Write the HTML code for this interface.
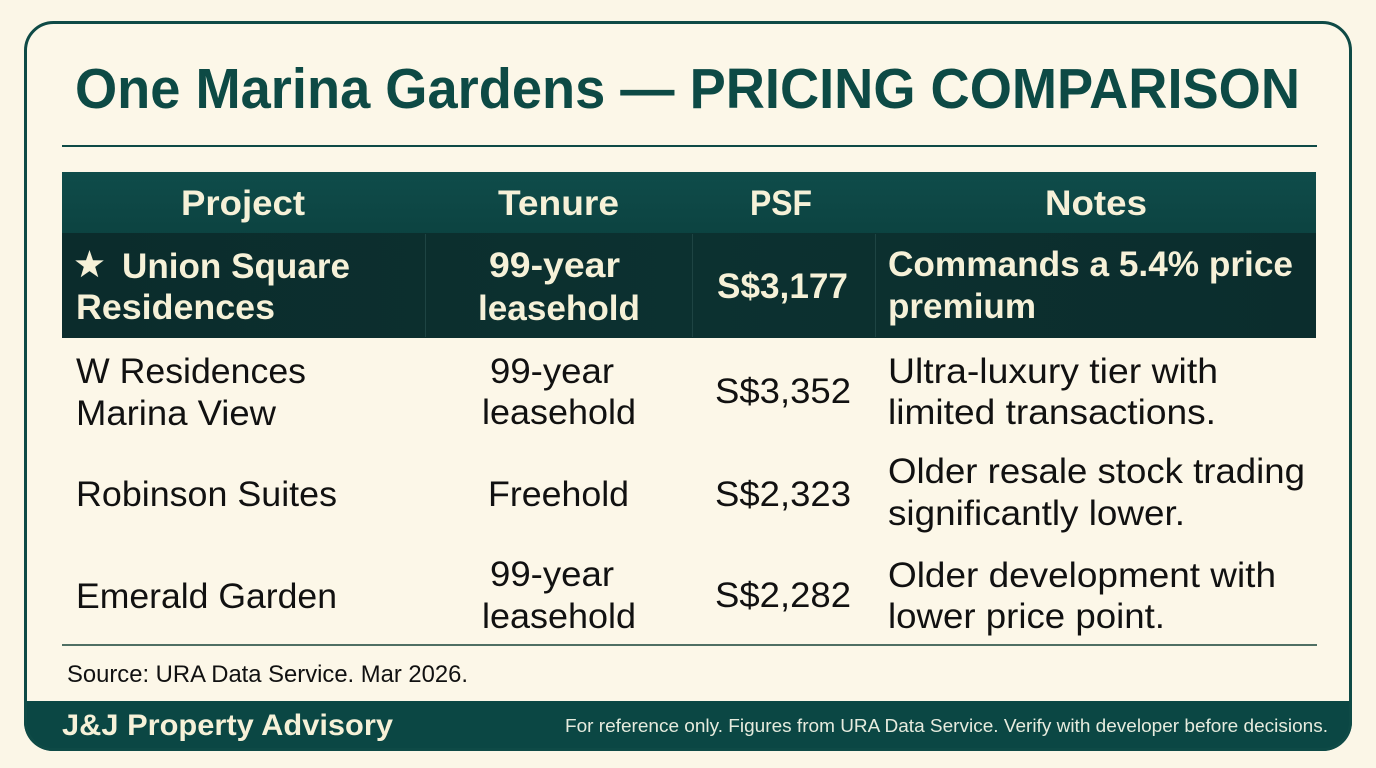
<!DOCTYPE html>
<html>
<head>
<meta charset="utf-8">
<style>
  html, body { margin:0; padding:0; background:#fbf6e7; }
  body { width:1376px; height:768px; overflow:hidden; }
  svg { display:block; }
  .t { font-family:"Liberation Sans", Arial, sans-serif; }
  .b { font-weight:bold; }
</style>
</head>
<body>
<svg width="1376" height="768" viewBox="0 0 1376 768" xmlns="http://www.w3.org/2000/svg">
  <defs>
    <clipPath id="card">
      <rect x="24" y="21" width="1328" height="730" rx="29" ry="29"/>
    </clipPath>
    <linearGradient id="hdr" x1="0" y1="0" x2="0" y2="1">
      <stop offset="0" stop-color="#0f4c4a"/>
      <stop offset="1" stop-color="#0c4341"/>
    </linearGradient>
    <linearGradient id="hl" x1="0" y1="0" x2="1" y2="0">
      <stop offset="0" stop-color="#0b2c2c"/>
      <stop offset="0.5" stop-color="#0c3130"/>
      <stop offset="1" stop-color="#0b2d2d"/>
    </linearGradient>
  </defs>

  <!-- page background -->
  <rect x="0" y="0" width="1376" height="768" fill="#fbf6e7"/>

  <!-- card -->
  <g clip-path="url(#card)">
    <rect x="24" y="21" width="1328" height="730" fill="#fcf7e8"/>
    <rect x="24" y="701" width="1328" height="52" fill="#0b4744"/>
  </g>
  <rect x="25.5" y="22.5" width="1325" height="727" rx="28" ry="28" fill="none" stroke="#0e4a46" stroke-width="3"/>

  <!-- title -->
  <text class="t b" x="75" y="108" font-size="57" fill="#0d4a45" textLength="1225" lengthAdjust="spacingAndGlyphs">One Marina Gardens — PRICING COMPARISON</text>

  <!-- divider -->
  <rect x="62" y="145" width="1255" height="2" fill="#0e4a46"/>

  <!-- header bar -->
  <rect x="62" y="172" width="1254" height="62" fill="url(#hdr)"/>
  <g class="t b" font-size="35" fill="#f6f1d8">
    <text x="181" y="215" textLength="124" lengthAdjust="spacingAndGlyphs">Project</text>
    <text x="498" y="215" textLength="121" lengthAdjust="spacingAndGlyphs">Tenure</text>
    <text x="750" y="215" textLength="62" lengthAdjust="spacingAndGlyphs">PSF</text>
    <text x="1045" y="215" textLength="102" lengthAdjust="spacingAndGlyphs">Notes</text>
  </g>

  <!-- highlight row -->
  <rect x="62" y="233" width="1254" height="105" fill="url(#hl)"/>
  <g stroke="#1e4443" stroke-width="1">
    <line x1="425.5" y1="234" x2="425.5" y2="337"/>
    <line x1="692.5" y1="234" x2="692.5" y2="337"/>
    <line x1="875.5" y1="234" x2="875.5" y2="337"/>
  </g>
  <!-- star -->
  <polygon fill="#f6f1d8" points="89.5,250 93.0,260.2 103.8,260.4 95.2,266.9 98.3,277.3 89.5,271.1 80.7,277.3 83.8,266.9 75.2,260.4 86.0,260.2"/>
  <g class="t b" font-size="35" fill="#f6f1d8">
    <text x="122" y="278" textLength="228" lengthAdjust="spacingAndGlyphs">Union Square</text>
    <text x="76" y="319" textLength="199" lengthAdjust="spacingAndGlyphs">Residences</text>
    <text x="489" y="277" textLength="131" lengthAdjust="spacingAndGlyphs">99-year</text>
    <text x="478" y="320" textLength="162" lengthAdjust="spacingAndGlyphs">leasehold</text>
    <text x="717" y="298" textLength="131" lengthAdjust="spacingAndGlyphs">S$3,177</text>
    <text x="888" y="276" textLength="405" lengthAdjust="spacingAndGlyphs">Commands a 5.4% price</text>
    <text x="888" y="318" textLength="148" lengthAdjust="spacingAndGlyphs">premium</text>
  </g>

  <!-- body rows -->
  <g class="t" font-size="35" fill="#111111">
    <!-- row 2 -->
    <text x="76" y="383" textLength="230" lengthAdjust="spacingAndGlyphs">W Residences</text>
    <text x="76" y="425" textLength="200" lengthAdjust="spacingAndGlyphs">Marina View</text>
    <text x="490" y="383" textLength="124" lengthAdjust="spacingAndGlyphs">99-year</text>
    <text x="482" y="424" textLength="154" lengthAdjust="spacingAndGlyphs">leasehold</text>
    <text x="715" y="403" textLength="136" lengthAdjust="spacingAndGlyphs">S$3,352</text>
    <text x="888" y="383" textLength="330" lengthAdjust="spacingAndGlyphs">Ultra-luxury tier with</text>
    <text x="888" y="424" textLength="328" lengthAdjust="spacingAndGlyphs">limited transactions.</text>
    <!-- row 3 -->
    <text x="76" y="506" textLength="261" lengthAdjust="spacingAndGlyphs">Robinson Suites</text>
    <text x="488" y="506" textLength="141" lengthAdjust="spacingAndGlyphs">Freehold</text>
    <text x="715" y="506" textLength="136" lengthAdjust="spacingAndGlyphs">S$2,323</text>
    <text x="888" y="483" textLength="417" lengthAdjust="spacingAndGlyphs">Older resale stock trading</text>
    <text x="888" y="525" textLength="297" lengthAdjust="spacingAndGlyphs">significantly lower.</text>
    <!-- row 4 -->
    <text x="76" y="608" textLength="261" lengthAdjust="spacingAndGlyphs">Emerald Garden</text>
    <text x="490" y="586" textLength="124" lengthAdjust="spacingAndGlyphs">99-year</text>
    <text x="482" y="628" textLength="154" lengthAdjust="spacingAndGlyphs">leasehold</text>
    <text x="715" y="607" textLength="136" lengthAdjust="spacingAndGlyphs">S$2,282</text>
    <text x="888" y="587" textLength="388" lengthAdjust="spacingAndGlyphs">Older development with</text>
    <text x="888" y="628" textLength="277" lengthAdjust="spacingAndGlyphs">lower price point.</text>
  </g>

  <!-- bottom table line -->
  <rect x="62" y="644" width="1255" height="2" fill="#4f6f63"/>

  <!-- source -->
  <text class="t" x="67" y="682" font-size="24" fill="#111111" textLength="401" lengthAdjust="spacingAndGlyphs">Source: URA Data Service. Mar 2026.</text>

  <!-- footer -->
  <text class="t b" x="62" y="735" font-size="30" fill="#f6f1d8" textLength="331" lengthAdjust="spacingAndGlyphs">J&amp;J Property Advisory</text>
  <text class="t" x="565" y="732" font-size="18.5" fill="#e6ebde" textLength="763" lengthAdjust="spacingAndGlyphs">For reference only. Figures from URA Data Service. Verify with developer before decisions.</text>
</svg>
</body>
</html>
